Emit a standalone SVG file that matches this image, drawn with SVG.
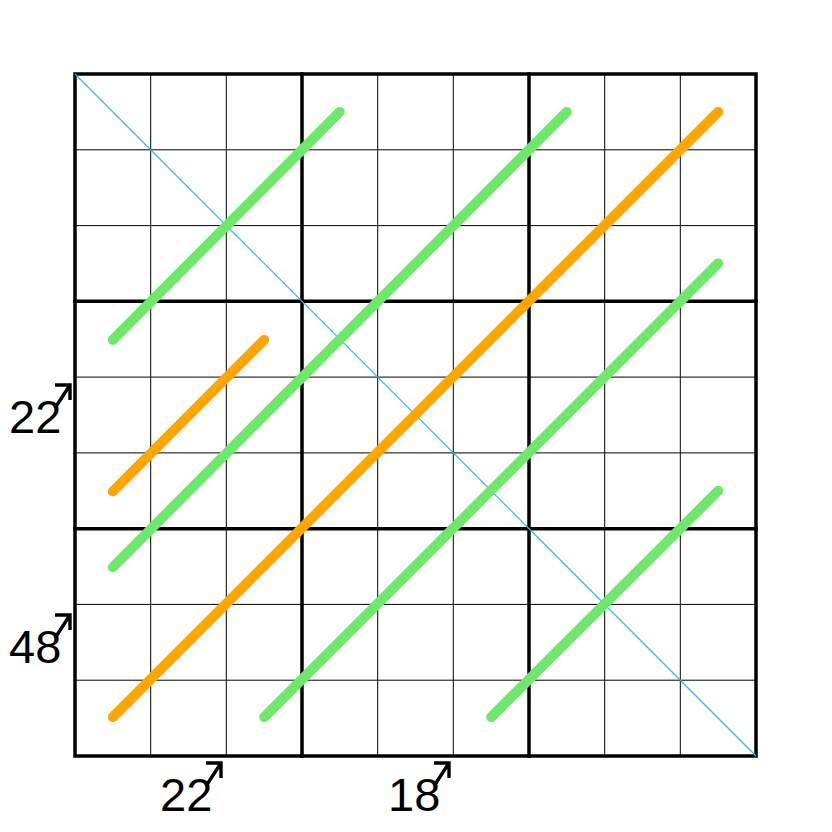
<svg xmlns="http://www.w3.org/2000/svg" width="832" height="832" viewBox="0 0 832 832">
<style>
.thin{stroke:#000;stroke-width:1;fill:none}
.thick{stroke:#000;stroke-width:3.5;fill:none;stroke-linecap:square}
.diag{stroke:#33b5ee;stroke-width:1.2}
.g{stroke:#6ee86a;stroke-width:10;stroke-linecap:round}
.o{stroke:#ffa500;stroke-width:10;stroke-linecap:round}
.lbl{font-family:"Liberation Sans",Arial,sans-serif;font-size:47px;fill:#000}
.arr{stroke:#000;stroke-width:3.4;fill:none}
</style>
<rect width="832" height="832" fill="#fff"/>
<g id="grid">
<path class="thin" d="M150.7 74V756M226.3 74V756M377.7 74V756M453.3 74V756M604.7 74V756M680.3 74V756M75 149.8H756M75 225.6H756M75 377.1H756M75 452.9H756M75 604.4H756M75 680.2H756"/>
<path class="thick" d="M302 74V756M529 74V756M75 301.3H756M75 528.7H756"/>
<rect class="thick" x="75" y="74" width="681" height="682"/>
</g>
<g id="connectors">
<line class="diag" x1="75" y1="74" x2="756" y2="756"/>
<line class="g" x1="112.8" y1="339.9" x2="339.8" y2="111.9"/>
<line class="g" x1="112.8" y1="567.3" x2="566.8" y2="111.9"/>
<line class="o" x1="112.8" y1="491.5" x2="264.2" y2="339.9"/>
<line class="o" x1="112.8" y1="717.1" x2="718.2" y2="111.9"/>
<line class="g" x1="264.2" y1="717.1" x2="718.2" y2="263.4"/>
<line class="g" x1="491.2" y1="717.1" x2="718.2" y2="490.8"/>
</g>
<g id="label-left-22">
<text class="lbl" x="9" y="433">22</text>
<path class="arr" d="M55 408L70 385M55 385H70V400"/>
</g>
<g id="label-left-48">
<text class="lbl" x="9" y="663">48</text>
<path class="arr" d="M55 638L70 615M55 615H70V630"/>
</g>
<g id="label-bottom-22">
<text class="lbl" x="160" y="811">22</text>
<path class="arr" d="M206 786L221 763M206 763H221V778"/>
</g>
<g id="label-bottom-18">
<text class="lbl" x="388" y="811">18</text>
<path class="arr" d="M434 786L449 763M434 763H449V778"/>
</g>
</svg>
